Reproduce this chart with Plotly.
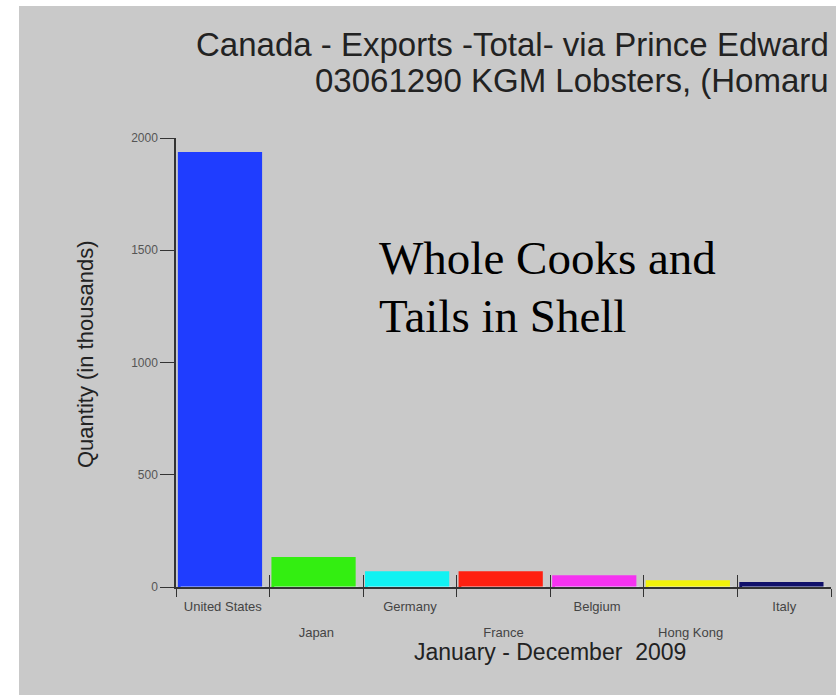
import plotly.graph_objects as go

# Lobster export quantities (thousands of kg), Jan-Dec 2009
countries = ["United States", "Japan", "Germany", "France", "Belgium", "Hong Kong", "Italy"]
quantities = [1938, 134, 70, 70, 52, 30, 22]
bar_colors = ["#1f3dff", "#33ee11", "#11f2f2", "#ff2010", "#f533f0", "#f2f20a", "#10106a"]
y_ticks = [0, 500, 1000, 1500, 2000]

W, H = 836, 695
ML, MR, MT, MB = 176, 5, 138, 108
PW, PH = W - ML - MR, H - MT - MB


def px_x(px):
    return (px - ML) / PW


def px_y(py):
    return (H - MB - py) / PH


# category labels alternate between two rows
row1_text = [c if i % 2 == 0 else "" for i, c in enumerate(countries)]
row2_text = [c if i % 2 == 1 else "" for i, c in enumerate(countries)]

fig = go.Figure()
fig.add_trace(go.Bar(
    x=countries, y=quantities,
    marker=dict(color=bar_colors, line=dict(width=0)),
    width=0.9, offset=-0.48,
    showlegend=False,
))
# transparent trace on the overlay axis (inner ticks + second label row)
fig.add_trace(go.Bar(x=countries, y=[0] * len(countries), xaxis="x2",
                     showlegend=False, hoverinfo="skip", marker_color="rgba(0,0,0,0)"))

tick_font = dict(size=13, color="#444")

fig.update_layout(
    width=W, height=H,
    margin=dict(l=ML, r=MR, t=MT, b=MB, pad=0),
    paper_bgcolor="white",
    plot_bgcolor="rgba(0,0,0,0)",
    font=dict(family="Liberation Sans, Arial, sans-serif", color="#222"),
    xaxis=dict(
        type="category", range=[-0.5, len(countries) - 0.5],
        tickmode="array", tickvals=countries, ticktext=row1_text,
        tickson="boundaries", ticks="outside", ticklen=8, tickwidth=1.2, tickcolor="#333",
        ticklabelstandoff=6,
        showline=True, linecolor="#333", linewidth=2,
        showgrid=False, zeroline=False,
        tickfont=tick_font,
    ),
    xaxis2=dict(
        type="category", overlaying="x", matches="x", side="bottom",
        tickmode="array", tickvals=countries, ticktext=row2_text,
        tickson="boundaries", ticks="inside", ticklen=12, tickwidth=1.2, tickcolor="#333",
        ticklabelstandoff=36,
        showline=False, showgrid=False, zeroline=False,
        tickfont=tick_font,
    ),
    yaxis=dict(
        range=[0, 2000], tickmode="array", tickvals=y_ticks,
        ticks="outside", ticklen=14, tickwidth=1.2, tickcolor="#333",
        showline=True, linecolor="#333", linewidth=1.5,
        showgrid=False, zeroline=False,
        tickfont=dict(size=12, color="#555"),
    ),
    bargap=0.1,
    shapes=[dict(
        type="rect", xref="paper", yref="paper", layer="below",
        x0=px_x(19), x1=px_x(W + 2), y0=px_y(H + 2), y1=px_y(6),
        fillcolor="#c9c9c9", line=dict(width=0),
    )],
    annotations=[
        dict(text="Canada - Exports -Total- via Prince Edward", xref="paper", yref="paper",
             x=px_x(831), y=px_y(45), xanchor="right", yanchor="middle", showarrow=False,
             font=dict(size=33, color="#222")),
        dict(text="03061290 KGM Lobsters, (Homaru", xref="paper", yref="paper",
             x=px_x(831), y=px_y(80), xanchor="right", yanchor="middle", showarrow=False,
             font=dict(size=33, color="#222")),
        dict(text="Quantity (in thousands)", xref="paper", yref="paper",
             x=px_x(85), y=px_y(355), xanchor="center", yanchor="middle", textangle=-90,
             showarrow=False, font=dict(size=22, color="#222")),
        dict(text="January - December\u00a0 2009", xref="paper", yref="paper",
             x=px_x(550), y=px_y(652), xanchor="center", yanchor="middle", showarrow=False,
             font=dict(size=23, color="#222")),
        dict(text="Whole Cooks and", xref="paper", yref="paper",
             x=px_x(377), y=px_y(258), xanchor="left", yanchor="middle", showarrow=False,
             font=dict(size=47, color="black", family="Liberation Serif, Times New Roman, serif")),
        dict(text="Tails in Shell", xref="paper", yref="paper",
             x=px_x(377), y=px_y(316), xanchor="left", yanchor="middle", showarrow=False,
             font=dict(size=47, color="black", family="Liberation Serif, Times New Roman, serif")),
    ],
)

fig.write_html("out.html")
